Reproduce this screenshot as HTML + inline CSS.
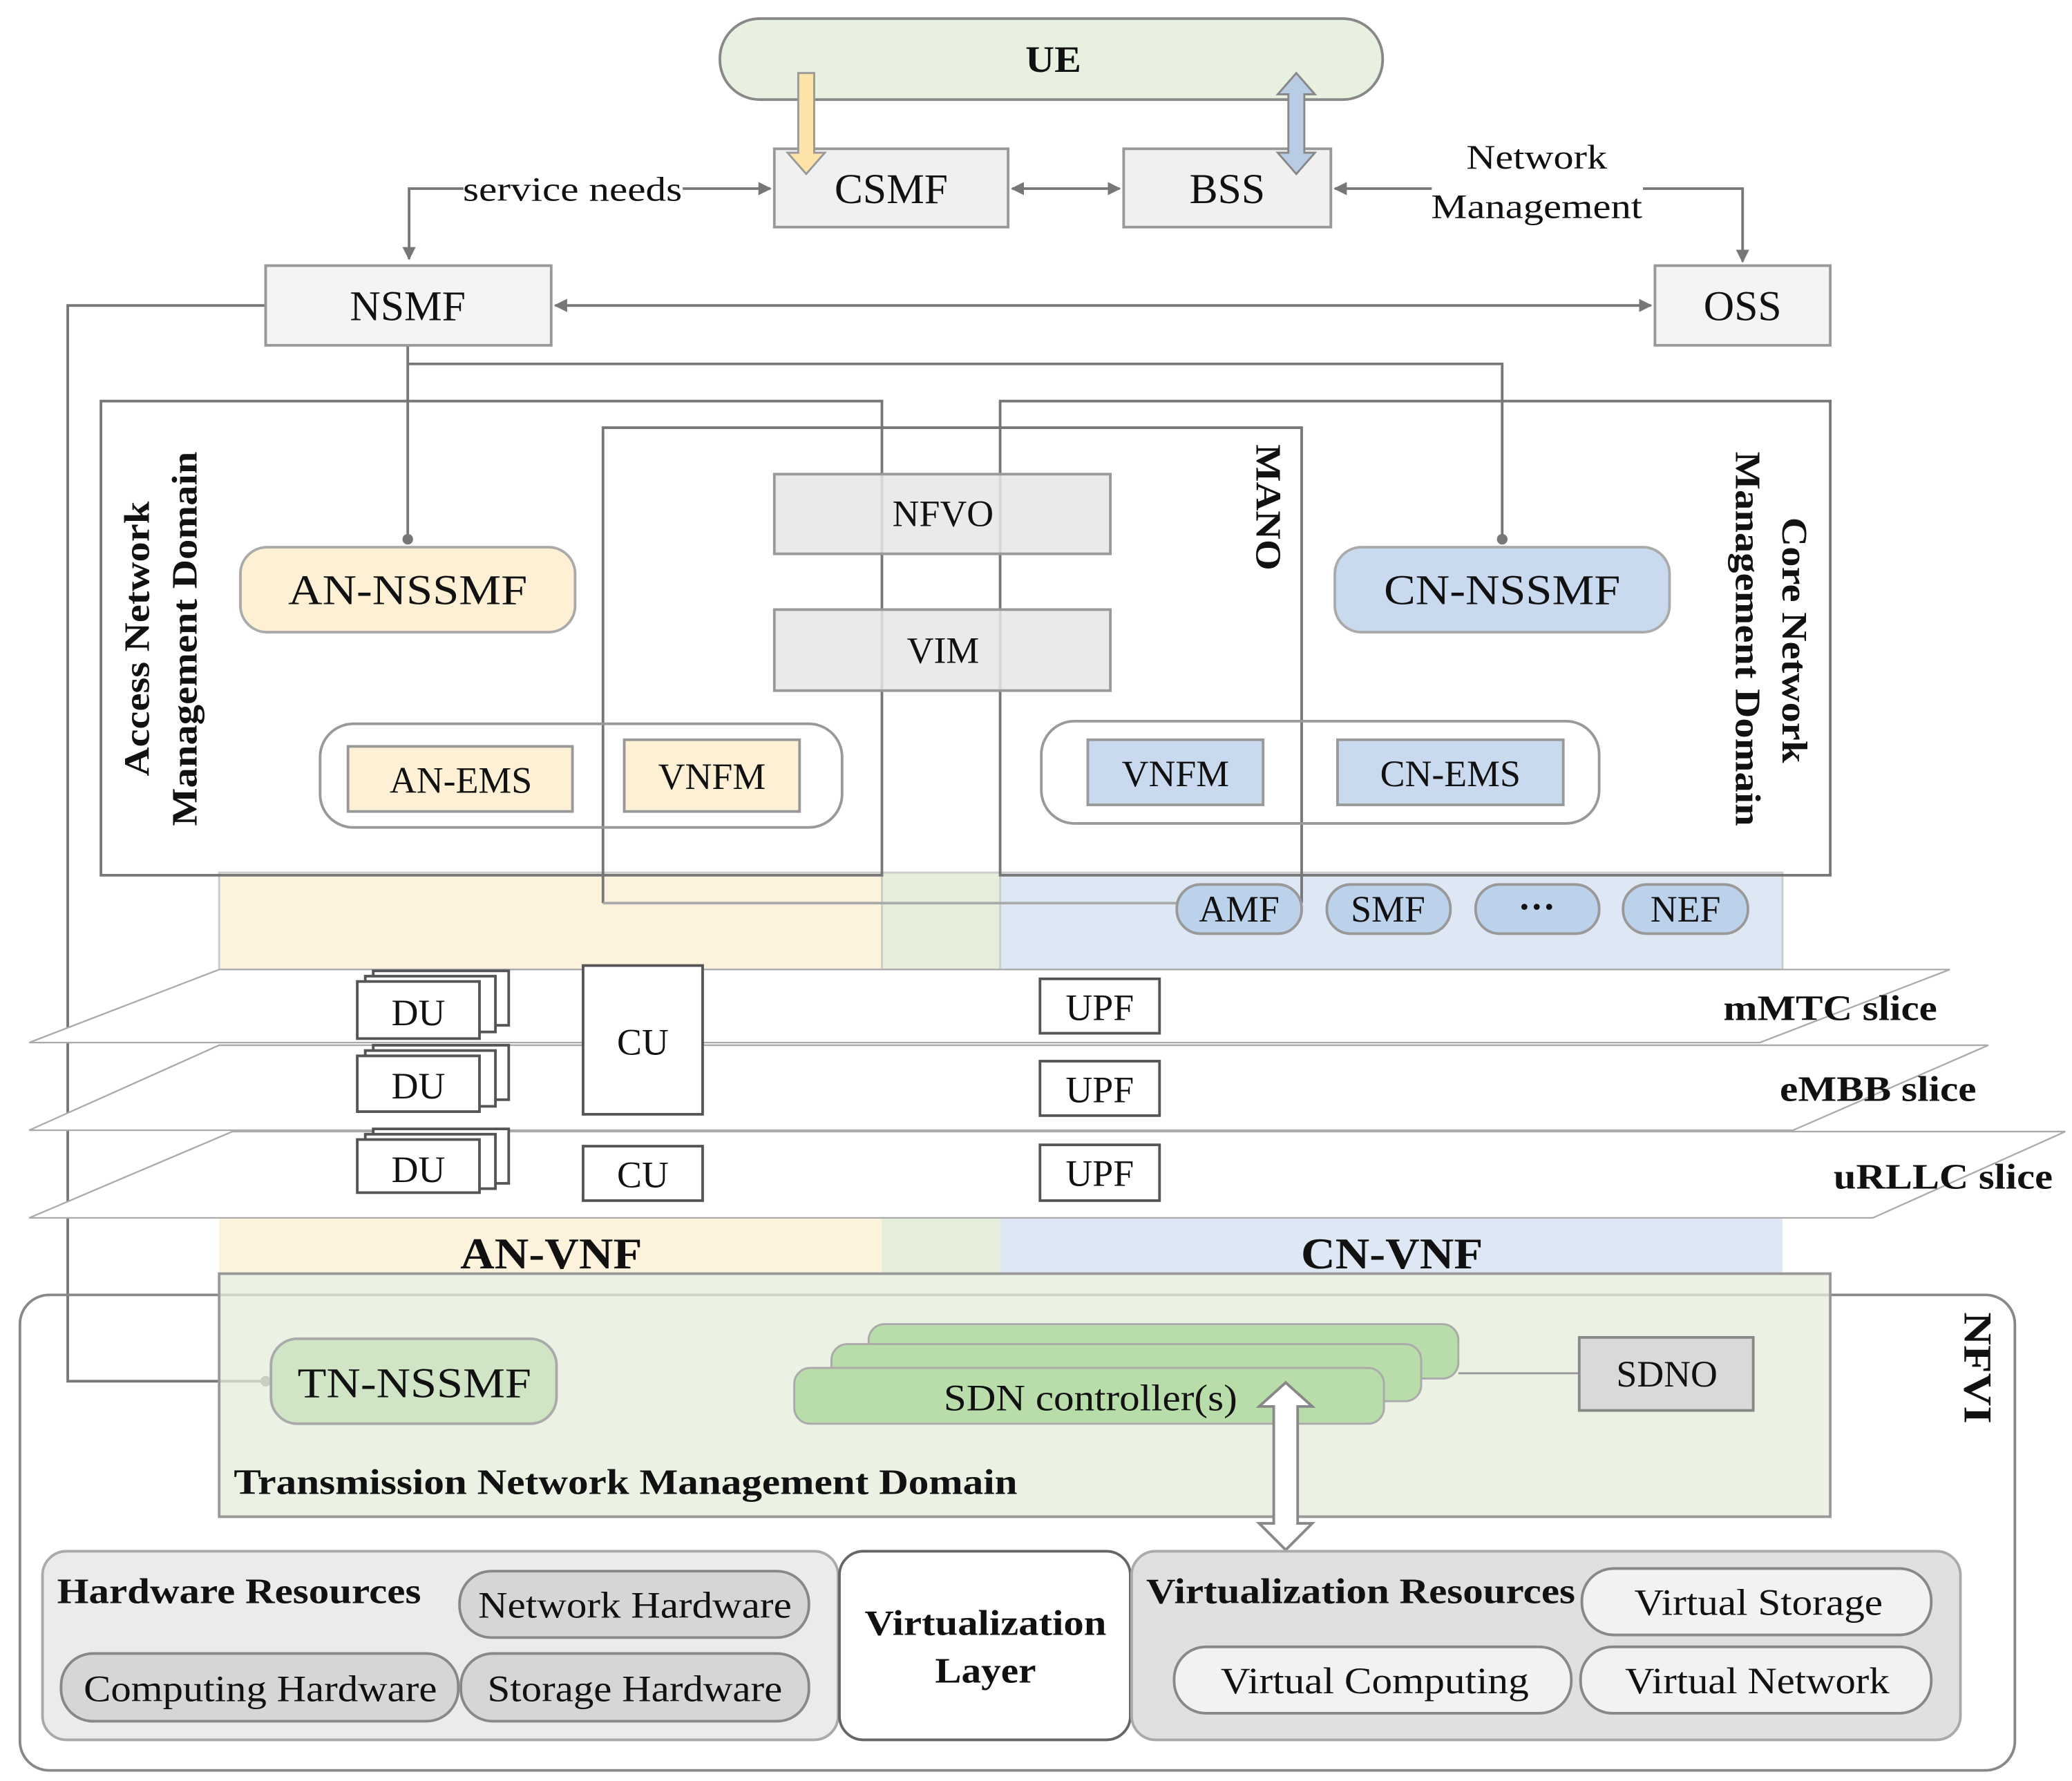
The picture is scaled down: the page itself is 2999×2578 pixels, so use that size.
<!DOCTYPE html>
<html><head><meta charset="utf-8"><style>
html,body{margin:0;padding:0;background:#fff}
svg{display:block}
text{font-family:"Liberation Serif",serif;fill:#111}
.b{font-weight:bold}
</style></head><body>
<svg width="2999" height="2578" viewBox="0 0 1560 1341" xmlns="http://www.w3.org/2000/svg">
<defs>
<marker id="ah" markerWidth="10" markerHeight="10" refX="9" refY="5" orient="auto-start-reverse" markerUnits="userSpaceOnUse"><path d="M0,0 L10,5 L0,10 z" fill="#777"/></marker>
</defs>
<rect x="542" y="14" width="499" height="61" rx="30" fill="#e8f0e0" stroke="#888" stroke-width="2"/>
<text x="793" y="54" font-size="28" class="b" text-anchor="middle" textLength="42" lengthAdjust="spacingAndGlyphs">UE</text>
<rect x="583" y="112" width="176" height="59" fill="#f0f0f0" stroke="#999" stroke-width="2"/>
<rect x="846" y="112" width="156" height="59" fill="#f0f0f0" stroke="#999" stroke-width="2"/>
<text x="671" y="153" font-size="32" text-anchor="middle">CSMF</text>
<text x="924" y="153" font-size="32" text-anchor="middle">BSS</text>
<path d="M601,55 h12 v60 h8 l-14,16 l-14,-16 h8 z" fill="#fde3a8" stroke="#999" stroke-width="1.5"/>
<path d="M976,55 l14,16 h-8 v44 h8 l-14,16 l-14,-16 h8 v-44 h-8 z" fill="#b8cce4" stroke="#888" stroke-width="1.5"/>
<g stroke="#777" stroke-width="2" fill="none">
<line x1="762" y1="142" x2="843" y2="142" marker-start="url(#ah)" marker-end="url(#ah)"/>
<path d="M308,195 V142 H349" marker-start="url(#ah)"/>
<path d="M514,142 H580" marker-end="url(#ah)"/>
<path d="M1005,142 H1078"  marker-start="url(#ah)"/>
<path d="M1237,142 H1312 V197" marker-end="url(#ah)"/>
<line x1="418" y1="230" x2="1243" y2="230" marker-start="url(#ah)" marker-end="url(#ah)"/>
<path d="M200,230 H51 V1040 H200"/>
<path d="M307,260 V405"/>
<path d="M307,274 H1131 V405"/>
</g>
<circle cx="307" cy="406" r="4" fill="#777"/><circle cx="1131" cy="406" r="4" fill="#777"/><circle cx="200" cy="1040" r="4" fill="#777"/>
<text x="431" y="151" font-size="26" text-anchor="middle" textLength="165" lengthAdjust="spacingAndGlyphs">service needs</text>
<text x="1157" y="127" font-size="26" text-anchor="middle" textLength="106" lengthAdjust="spacingAndGlyphs">Network</text>
<text x="1157" y="164" font-size="26" text-anchor="middle" textLength="159" lengthAdjust="spacingAndGlyphs">Management</text>
<rect x="200" y="200" width="215" height="60" fill="#f4f4f4" stroke="#999" stroke-width="2"/>
<rect x="1246" y="200" width="132" height="60" fill="#f4f4f4" stroke="#999" stroke-width="2"/>
<text x="307" y="241" font-size="32" text-anchor="middle">NSMF</text>
<text x="1312" y="241" font-size="32" text-anchor="middle">OSS</text>

<rect x="165" y="657" width="499" height="73" fill="#fdf2dc"/>
<rect x="664" y="657" width="89" height="73" fill="#e4eedb"/>
<rect x="753" y="657" width="589" height="73" fill="#dde8f4"/>
<rect x="165" y="917" width="499" height="42" fill="#fdf2dc"/>
<rect x="664" y="917" width="89" height="42" fill="#e4eedb"/>
<rect x="753" y="917" width="589" height="42" fill="#dde8f4"/>
<g stroke="#ccc" stroke-width="1.5" fill="none">
<rect x="165" y="657" width="1177" height="73"/>
<line x1="664" y1="657" x2="664" y2="730"/><line x1="753" y1="657" x2="753" y2="730"/>
</g>

<g stroke="#777" stroke-width="2" fill="none">
<rect x="76" y="302" width="588" height="357"/>
<rect x="753" y="302" width="625" height="357"/>
<path d="M454,680 V322 H980 V680"/>
<line x1="454" y1="680" x2="886" y2="680" stroke="#aaa"/>
</g>
<rect x="583" y="357" width="253" height="60" fill="#e6e6e6" fill-opacity="0.85" stroke="#999" stroke-width="2"/>
<rect x="583" y="459" width="253" height="61" fill="#e6e6e6" fill-opacity="0.85" stroke="#999" stroke-width="2"/>
<text x="710" y="396" font-size="28" text-anchor="middle">NFVO</text>
<text x="710" y="499" font-size="28" text-anchor="middle">VIM</text>
<rect x="181" y="412" width="252" height="64" rx="20" fill="#fdf0d4" stroke="#aaa" stroke-width="2"/>
<rect x="1005" y="412" width="252" height="64" rx="20" fill="#c9d9ee" stroke="#aaa" stroke-width="2"/>
<text x="307" y="455" font-size="32" text-anchor="middle" textLength="180" lengthAdjust="spacingAndGlyphs">AN-NSSMF</text>
<text x="1131" y="455" font-size="32" text-anchor="middle" textLength="178" lengthAdjust="spacingAndGlyphs">CN-NSSMF</text>
<rect x="241" y="545" width="393" height="78" rx="25" fill="none" stroke="#999" stroke-width="2"/>
<rect x="784" y="543" width="420" height="77" rx="25" fill="none" stroke="#999" stroke-width="2"/>
<rect x="262" y="562" width="169" height="49" fill="#fdf0d4" stroke="#999" stroke-width="2"/>
<rect x="470" y="557" width="132" height="54" fill="#fdf0d4" stroke="#999" stroke-width="2"/>
<rect x="819" y="557" width="132" height="49" fill="#c9d9ee" stroke="#999" stroke-width="2"/>
<rect x="1007" y="557" width="170" height="49" fill="#c9d9ee" stroke="#999" stroke-width="2"/>
<text x="347" y="597" font-size="28" text-anchor="middle">AN-EMS</text>
<text x="536" y="594" font-size="28" text-anchor="middle">VNFM</text>
<text x="885" y="592" font-size="28" text-anchor="middle">VNFM</text>
<text x="1092" y="592" font-size="28" text-anchor="middle">CN-EMS</text>
<text transform="translate(112,481) rotate(-90)" font-size="27" class="b" text-anchor="middle" textLength="207" lengthAdjust="spacingAndGlyphs">Access Network</text>
<text transform="translate(148,481) rotate(-90)" font-size="27" class="b" text-anchor="middle" textLength="282" lengthAdjust="spacingAndGlyphs">Management Domain</text>
<text transform="translate(1342,482) rotate(90)" font-size="27" class="b" text-anchor="middle" textLength="185" lengthAdjust="spacingAndGlyphs">Core Network</text>
<text transform="translate(1307,481) rotate(90)" font-size="27" class="b" text-anchor="middle" textLength="282" lengthAdjust="spacingAndGlyphs">Management Domain</text>
<text transform="translate(946,382) rotate(90)" font-size="27" class="b" text-anchor="middle" textLength="95" lengthAdjust="spacingAndGlyphs">MANO</text>
<g stroke="#999" stroke-width="2" fill="#bcd2ea">
<rect x="886" y="666" width="94" height="37" rx="18"/>
<rect x="999" y="666" width="93" height="37" rx="18"/>
<rect x="1111" y="666" width="93" height="37" rx="18"/>
<rect x="1222" y="666" width="94" height="37" rx="18"/>
</g>
<text x="933" y="694" font-size="28" text-anchor="middle">AMF</text>
<text x="1045" y="694" font-size="28" text-anchor="middle">SMF</text>
<text x="1157" y="692" font-size="28" class="b" text-anchor="middle">···</text>
<text x="1269" y="694" font-size="28" text-anchor="middle">NEF</text>

<g stroke="#aaa" stroke-width="1.2" fill="#fff">
<path d="M165,730 H1468 L1325,785 H22 Z"/>
<path d="M165,787 H1497 L1350,851 H22 Z"/>
<path d="M175,852 H1555 L1410,917 H22 Z"/>
</g>
<g stroke="#555" stroke-width="2" fill="#fff">
<rect x="281" y="731" width="102" height="41"/><rect x="275" y="735" width="98" height="42"/><rect x="269" y="739" width="92" height="43"/>
<rect x="281" y="787" width="102" height="41"/><rect x="275" y="791" width="98" height="42"/><rect x="269" y="795" width="92" height="42"/>
<rect x="281" y="850" width="102" height="41"/><rect x="275" y="854" width="98" height="41"/><rect x="269" y="858" width="92" height="40"/>
<rect x="439" y="727" width="90" height="112"/>
<rect x="439" y="863" width="90" height="41"/>
<rect x="783" y="737" width="90" height="41"/>
<rect x="783" y="799" width="90" height="41"/>
<rect x="783" y="862" width="90" height="42"/>
</g>
<g font-size="28" text-anchor="middle">
<text x="315" y="772">DU</text><text x="315" y="827">DU</text><text x="315" y="890">DU</text>
<text x="484" y="794">CU</text><text x="484" y="894">CU</text>
<text x="828" y="768">UPF</text><text x="828" y="830">UPF</text><text x="828" y="893">UPF</text>
</g>
<text x="1378" y="768" font-size="27" class="b" text-anchor="middle" textLength="161" lengthAdjust="spacingAndGlyphs">mMTC slice</text>
<text x="1414" y="829" font-size="27" class="b" text-anchor="middle" textLength="148" lengthAdjust="spacingAndGlyphs">eMBB slice</text>
<text x="1463" y="895" font-size="27" class="b" text-anchor="middle" textLength="165" lengthAdjust="spacingAndGlyphs">uRLLC slice</text>
<text x="415" y="955" font-size="33" class="b" text-anchor="middle" textLength="137" lengthAdjust="spacingAndGlyphs">AN-VNF</text>
<text x="1048" y="955" font-size="33" class="b" text-anchor="middle" textLength="137" lengthAdjust="spacingAndGlyphs">CN-VNF</text>

<rect x="15" y="975" width="1502" height="358" rx="22" fill="none" stroke="#888" stroke-width="2"/>
<rect x="165" y="959" width="1213" height="183" fill="#e4eedb" fill-opacity="0.75" stroke="#999" stroke-width="2"/>
<text transform="translate(1479,1030) rotate(90)" font-size="30" class="b" text-anchor="middle" textLength="84" lengthAdjust="spacingAndGlyphs">NFVI</text>
<rect x="204" y="1008" width="215" height="64" rx="20" fill="#cfe5c6" stroke="#aaa" stroke-width="2"/>
<text x="312" y="1052" font-size="32" text-anchor="middle" textLength="176" lengthAdjust="spacingAndGlyphs">TN-NSSMF</text>
<line x1="1098" y1="1034" x2="1189" y2="1034" stroke="#999" stroke-width="1.5"/>
<g stroke="#aaa" stroke-width="1.5" fill="#b9dcab">
<rect x="654" y="997" width="444" height="41" rx="12"/>
<rect x="626" y="1012" width="444" height="43" rx="12"/>
<rect x="598" y="1030" width="444" height="42" rx="12"/>
</g>
<text x="821" y="1062" font-size="28" text-anchor="middle" textLength="221" lengthAdjust="spacingAndGlyphs">SDN controller(s)</text>
<rect x="1189" y="1007" width="131" height="55" fill="#d9d9d9" stroke="#888" stroke-width="2"/>
<text x="1255" y="1044" font-size="28" text-anchor="middle">SDNO</text>
<path d="M968,1041 l20,18 h-11 v88 h11 l-20,20 l-20,-20 h11 v-88 h-11 z" fill="#fff" stroke="#888" stroke-width="2"/>
<text x="176" y="1125" font-size="27" class="b" textLength="590" lengthAdjust="spacingAndGlyphs">Transmission Network Management Domain</text>

<rect x="32" y="1168" width="599" height="142" rx="18" fill="#ebebeb" stroke="#aaa" stroke-width="2"/>
<rect x="632" y="1168" width="219" height="142" rx="18" fill="#fff" stroke="#666" stroke-width="2"/>
<rect x="852" y="1168" width="624" height="142" rx="18" fill="#e0e0e0" stroke="#aaa" stroke-width="2"/>
<g stroke="#888" stroke-width="2" fill="#d6d6d6">
<rect x="346" y="1183" width="263" height="50" rx="24"/>
<rect x="46" y="1245" width="299" height="51" rx="24"/>
<rect x="347" y="1245" width="262" height="51" rx="24"/>
</g>
<g stroke="#888" stroke-width="2" fill="#f2f2f2">
<rect x="1191" y="1181" width="263" height="50" rx="24"/>
<rect x="884" y="1240" width="299" height="50" rx="24"/>
<rect x="1190" y="1240" width="264" height="50" rx="24"/>
</g>
<text x="43" y="1207" font-size="27" class="b" textLength="274" lengthAdjust="spacingAndGlyphs">Hardware Resources</text>
<text x="478" y="1218" font-size="28" text-anchor="middle" textLength="236" lengthAdjust="spacingAndGlyphs">Network Hardware</text>
<text x="196" y="1281" font-size="28" text-anchor="middle" textLength="266" lengthAdjust="spacingAndGlyphs">Computing Hardware</text>
<text x="478" y="1281" font-size="28" text-anchor="middle" textLength="222" lengthAdjust="spacingAndGlyphs">Storage Hardware</text>
<text x="742" y="1231" font-size="27" class="b" text-anchor="middle" textLength="182" lengthAdjust="spacingAndGlyphs">Virtualization</text>
<text x="742" y="1267" font-size="27" class="b" text-anchor="middle" textLength="76" lengthAdjust="spacingAndGlyphs">Layer</text>
<text x="863" y="1207" font-size="27" class="b" textLength="323" lengthAdjust="spacingAndGlyphs">Virtualization Resources</text>
<text x="1324" y="1216" font-size="28" text-anchor="middle" textLength="187" lengthAdjust="spacingAndGlyphs">Virtual Storage</text>
<text x="1035" y="1275" font-size="28" text-anchor="middle" textLength="232" lengthAdjust="spacingAndGlyphs">Virtual Computing</text>
<text x="1323" y="1275" font-size="28" text-anchor="middle" textLength="199" lengthAdjust="spacingAndGlyphs">Virtual Network</text>
</svg>
</body></html>
